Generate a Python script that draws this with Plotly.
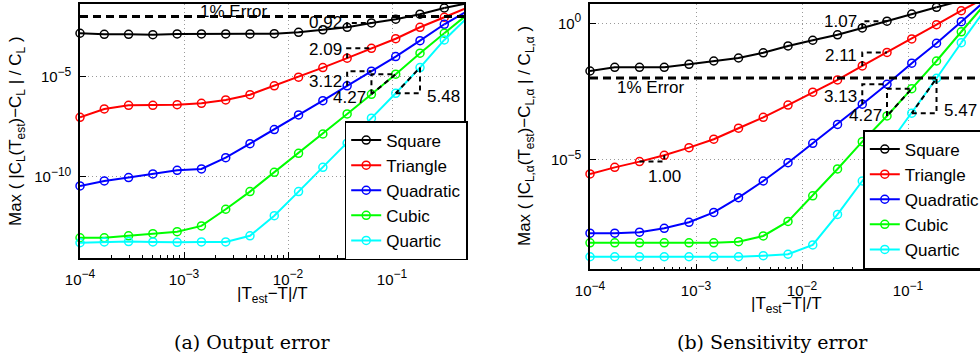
import math
import plotly.graph_objects as go

# |T_est - T| / T sample points (shared by both panels)
t_err = [1.000e-4, 1.712e-4, 2.931e-4, 5.018e-4, 8.590e-4, 1.471e-3, 2.518e-3,
         4.310e-3, 7.379e-3, 1.263e-2, 2.163e-2, 3.703e-2, 6.339e-2, 0.1085,
         0.1858, 0.3181, 0.5445]

series_names = ["Square", "Triangle", "Quadratic", "Cubic", "Quartic"]
series_colors = ["#000000", "#ff0000", "#0000ff", "#00ff00", "#00ffff"]

# (a) output error: max |C_L(T_est) - C_L| / C_L
out_square = [1.45e-3, 1.29e-3, 1.29e-3, 1.23e-3, 1.35e-3, 1.35e-3, 1.35e-3, 1.35e-3,
              1.38e-3, 1.62e-3, 2.14e-3, 2.88e-3, 4.73e-3, 7.24e-3, 1.29e-2, 2.63e-2, 4.68e-2]
out_triangle = [9.33e-8, 2.45e-7, 3.72e-7, 3.72e-7, 3.98e-7, 4.68e-7, 6.92e-7, 1.26e-6,
                3.47e-6, 9.33e-6, 2.82e-5, 8.32e-5, 2.57e-4, 7.76e-4, 2.88e-3, 9.12e-3, 2.88e-2]
out_quadratic = [3.55e-11, 6.31e-11, 9.33e-11, 1.41e-10, 2.14e-10, 2.51e-10, 9.12e-10, 4.57e-9,
                 2.29e-8, 1.23e-7, 6.31e-7, 3.47e-6, 1.86e-5, 1.00e-4, 6.17e-4, 4.07e-3, 2.00e-2]
out_cubic = [9.33e-14, 9.33e-14, 1.17e-13, 1.48e-13, 1.86e-13, 3.63e-13, 2.45e-12, 1.86e-11,
             1.70e-10, 1.51e-9, 1.38e-8, 1.38e-7, 1.32e-6, 1.32e-5, 1.48e-4, 1.45e-3, 1.41e-2]
out_quartic = [5.25e-14, 5.75e-14, 6.03e-14, 5.75e-14, 5.50e-14, 5.75e-14, 5.75e-14, 1.17e-13,
               1.17e-12, 1.86e-11, 3.02e-10, 4.79e-9, 8.51e-8, 1.48e-6, 2.82e-5, 6.76e-4, 1.00e-2]

# (b) sensitivity error: max |C_L,a(T_est) - C_L,a| / C_L,a
sens_square = [1.80e-2, 2.45e-2, 2.45e-2, 2.45e-2, 3.16e-2, 4.17e-2, 5.37e-2, 8.32e-2,
               0.148, 0.240, 0.380, 0.676, 1.20, 2.19, 3.85, 6.76, 11.7]
sens_triangle = [3.09e-6, 5.37e-6, 8.71e-6, 1.48e-5, 2.82e-5, 5.75e-5, 1.45e-4, 3.63e-4,
                 1.02e-3, 3.02e-3, 8.51e-3, 2.75e-2, 8.57e-2, 0.269, 0.891, 2.88, 8.91]
sens_quadratic = [2.09e-8, 2.09e-8, 2.29e-8, 3.16e-8, 5.25e-8, 1.20e-7, 4.17e-7, 1.70e-6,
                  7.94e-6, 4.07e-5, 2.00e-4, 1.10e-3, 5.89e-3, 3.47e-2, 0.186, 1.15, 7.08]
sens_cubic = [9.33e-9, 9.33e-9, 9.33e-9, 9.33e-9, 9.33e-9, 9.33e-9, 1.02e-8, 1.66e-8,
              5.62e-8, 4.90e-7, 4.68e-6, 4.68e-5, 4.07e-4, 4.07e-3, 4.17e-2, 0.490, 5.62]
sens_quartic = [2.88e-9, 2.88e-9, 2.88e-9, 2.88e-9, 2.88e-9, 2.88e-9, 2.88e-9, 3.16e-9,
                3.55e-9, 7.76e-9, 1.02e-7, 1.70e-6, 3.02e-5, 5.13e-4, 9.77e-3, 0.195, 3.55]

# 1% error threshold
error_limit = 0.01

# slope markers: (series, start index, leg order, label, label side, label t, yshift, closed)
out_slopes = [
    (0, 11, "vh", "0.92", "left", 1.0, 0, False),
    (1, 11, "vh", "2.09", "left", 0.85, 0, False),
    (2, 11, "vh", "3.12", "left", 0.33, 0, False),
    (3, 12, "vh", "4.27", "left", 0.0, -3, True),
    (4, 13, "hv", "5.48", "right", 0.0, -3, True),
]
sens_slopes = [
    (0, 11, "vh", "1.07", "left", 1.0, 0, False),
    (1, 11, "vh", "2.11", "left", 0.81, 0, False),
    (2, 11, "vh", "3.13", "left", 0.37, 0, False),
    (3, 12, "vh", "4.27", "left", 0.0, 0, True),
    (4, 13, "hv", "5.47", "right", 0.0, 3, True),
    (1, 2, "hv", "1.00", "below", 0.0, 0, False),
]

W, H = 980, 358
FONT = "Liberation Sans"


def power_label(exp):
    return "10<sup><span style='font-size:12px'>%s</span></sup>" % str(exp).replace("-", "\u2212")


panels = [
    dict(series=[out_square, out_triangle, out_quadratic, out_cubic, out_quartic],
         slopes=out_slopes, xa="x", ya="y", legend="legend",
         xdom=[80 / W, 464.3 / W], xr=[-4, -0.305],
         ydom=[(H - 258) / H, (H - 4) / H], yr=[-14.04, -1.38],
         yticks=[1e-10, 1e-5], ylabels=[power_label(-10), power_label(-5)]),
    dict(series=[sens_square, sens_triangle, sens_quadratic, sens_cubic, sens_quartic],
         slopes=sens_slopes, xa="x2", ya="y2", legend="legend2",
         xdom=[590 / W, 1.0], xr=[-4, -0.3208],
         ydom=[(H - 269.3) / H, (H - 4) / H], yr=[-9.0, 0.706],
         yticks=[1e-5, 1.0], ylabels=[power_label(-5), power_label(0)]),
]

fig = go.Figure()
annotations = []

for p in panels:
    xmax = 10 ** p["xr"][1]
    ymax = 10 ** p["yr"][1]
    for name, color, ys in zip(series_names, series_colors, p["series"]):
        vis = [i for i, (x, y) in enumerate(zip(t_err, ys)) if x <= xmax and y <= ymax]
        last = vis[-1]
        fig.add_trace(go.Scatter(
            x=t_err[:last + 1], y=ys[:last + 1], mode="lines+markers", name=name,
            line=dict(color=color, width=2),
            marker=dict(symbol="circle-open", size=8, color=color, line=dict(width=1.5, color=color)),
            xaxis=p["xa"], yaxis=p["ya"], legend=p["legend"], cliponaxis=False))
        if last < len(t_err) - 1:
            fig.add_trace(go.Scatter(
                x=t_err[last:], y=ys[last:], mode="lines", showlegend=False,
                line=dict(color=color, width=2), xaxis=p["xa"], yaxis=p["ya"],
                hoverinfo="skip"))

    # 1% error line
    fig.add_trace(go.Scatter(
        x=[t_err[0], 1.0], y=[error_limit, error_limit], mode="lines", showlegend=False,
        line=dict(color="black", width=3, dash="8px,5px"), xaxis=p["xa"], yaxis=p["ya"],
        hoverinfo="skip"))

    # slope triangles
    for si, k, order, label, side, t, ysh, closed in p["slopes"]:
        ys = p["series"][si]
        x0, x1 = t_err[k], t_err[k + 1]
        y0, y1 = ys[k], ys[k + 1]
        if order == "vh":
            px, py = [x0, x0, x1], [y0, y1, y1]
        else:
            px, py = [x0, x1, x1], [y0, y0, y1]
        if closed:
            px.append(x0)
            py.append(y0)
        fig.add_trace(go.Scatter(
            x=px, y=py, mode="lines", showlegend=False,
            line=dict(color="black", width=2, dash="5px,4px"),
            xaxis=p["xa"], yaxis=p["ya"], hoverinfo="skip"))
        ly = math.log10(y0) + t * (math.log10(y1) - math.log10(y0))
        if side == "left":
            ann = dict(x=math.log10(x0), y=ly, xanchor="right", xshift=-3, yshift=ysh)
        elif side == "right":
            ann = dict(x=math.log10(x1), y=ly, xanchor="left", xshift=5, yshift=ysh)
        else:
            ann = dict(x=math.log10(x1), y=math.log10(y0), xanchor="center", yshift=-15)
        ann.update(text=label, showarrow=False, xref=p["xa"], yref=p["ya"], yanchor="middle",
                   font=dict(family=FONT, size=17, color="black"))
        annotations.append(ann)

    # axes
    minor_vals = [m * 10 ** e for e in range(-4, 0) for m in range(2, 10)]
    xkey = "xaxis" if p["xa"] == "x" else "xaxis2"
    ykey = "yaxis" if p["ya"] == "y" else "yaxis2"
    fig.update_layout(**{
        xkey: dict(type="log", domain=p["xdom"], range=p["xr"], anchor=p["ya"],
                   tickmode="array", tickvals=[1e-4, 1e-3, 1e-2, 1e-1],
                   ticktext=[power_label(e) for e in (-4, -3, -2, -1)],
                   ticks="inside", ticklen=6, tickwidth=1, tickcolor="black",
                   minor=dict(tickmode="array", tickvals=minor_vals, ticks="inside",
                              ticklen=3, tickcolor="black", showgrid=False),
                   showline=True, linecolor="black", linewidth=1.5, mirror=True,
                   showgrid=True, gridcolor="#9a9a9a", gridwidth=1, griddash="1px,3px",
                   zeroline=False, tickfont=dict(family=FONT, size=15, color="black"),
                   ticklabelstandoff=7),
        ykey: dict(type="log", domain=p["ydom"], range=p["yr"], anchor=p["xa"],
                   tickmode="array", tickvals=p["yticks"], ticktext=p["ylabels"],
                   ticks="inside", ticklen=6, tickwidth=1, tickcolor="black",
                   showline=True, linecolor="black", linewidth=1.5, mirror=True,
                   showgrid=True, gridcolor="#9a9a9a", gridwidth=1, griddash="1px,3px",
                   zeroline=False, tickfont=dict(family=FONT, size=15, color="black"),
                   ticklabelstandoff=4),
    })

# text labels
txt = dict(showarrow=False, xref="paper", yref="paper", font=dict(family=FONT, size=17, color="black"))
annotations += [
    dict(text="1% Error", x=233 / W, y=1.0, xanchor="center", yanchor="top", **txt),
    dict(text="1% Error", x=650 / W, y=(H - 88) / H, xanchor="center", yanchor="middle", **txt),
    dict(text="|T<sub>est</sub>\u2212T|/T", x=272 / W, y=(H - 282) / H, xanchor="center", yanchor="top", **txt),
    dict(text="|T<sub>est</sub>\u2212T|/T", x=786 / W, y=(H - 292) / H, xanchor="center", yanchor="top", **txt),
    dict(text="Max ( |C<sub>L</sub>(T<sub>est</sub>)\u2212C<sub>L</sub> | / C<sub>L</sub> )",
         x=17 / W, y=(H - 131) / H, xanchor="center", yanchor="middle", textangle=-90, **txt),
    dict(text="Max ( |C<sub>L,\u03b1</sub>(T<sub>est</sub>)\u2212C<sub>L,\u03b1</sub> | / C<sub>L,\u03b1</sub> )",
         x=526 / W, y=(H - 136) / H, xanchor="center", yanchor="middle", textangle=-90, **txt),
    dict(text="(a) Output error", x=252.5 / W, y=(H - 342) / H, xanchor="center", yanchor="middle",
         showarrow=False, xref="paper", yref="paper",
         font=dict(family="DejaVu Serif", size=19, color="black")),
    dict(text="(b) Sensitivity error", x=772 / W, y=(H - 342) / H, xanchor="center", yanchor="middle",
         showarrow=False, xref="paper", yref="paper",
         font=dict(family="DejaVu Serif", size=19, color="black")),
]

legend_style = dict(bgcolor="white", bordercolor="black", borderwidth=1.5,
                    font=dict(family=FONT, size=17, color="black"),
                    xanchor="left", yanchor="top", tracegroupgap=0)

fig.update_layout(
    width=W, height=H,
    margin=dict(l=0, r=0, t=0, b=0, autoexpand=False),
    paper_bgcolor="white", plot_bgcolor="white",
    showlegend=True,
    legend=dict(x=344.7 / W, y=(H - 121) / H, **legend_style),
    legend2=dict(x=863.3 / W, y=(H - 130) / H, **legend_style),
    annotations=annotations,
    font=dict(family=FONT, color="black"),
)

fig.write_html("out.html")
